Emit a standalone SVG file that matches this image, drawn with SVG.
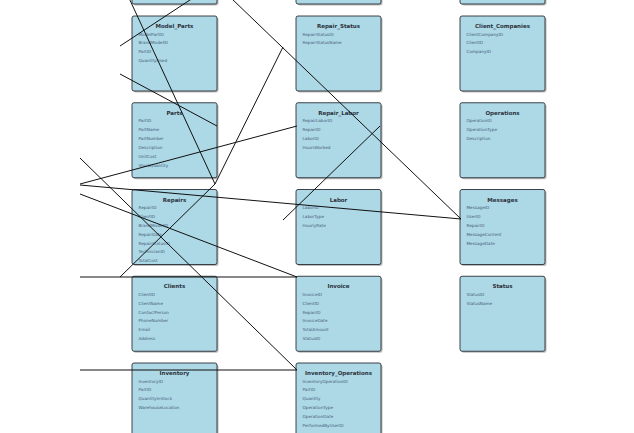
<svg xmlns="http://www.w3.org/2000/svg" width="634" height="433" viewBox="0 0 634 433">
<defs>
<style>
.bg{fill:#ffffff}
.sh{fill:#7a7a7a;opacity:0.5}
.box{fill:#add8e6;stroke:#2a2f36;stroke-width:0.9}
.t{font-family:"DejaVu Sans",sans-serif;font-size:5.5px;font-weight:bold;fill:#2b323c;text-anchor:middle}
.f{font-family:"DejaVu Sans",sans-serif;font-size:4.2px;fill:#46607a}
.ln{stroke:#111111;stroke-width:1;fill:none}
</style>
</defs>
<rect class="bg" x="0" y="0" width="634" height="433"/>
<g id="nodes">
<g id="top1"><rect class="sh" x="133.5" y="-69.5" width="85" height="75" rx="2"/><rect class="box" x="132" y="-71" width="85" height="75" rx="2"/></g>
<g id="top2"><rect class="sh" x="297.5" y="-69.5" width="85" height="75" rx="2"/><rect class="box" x="296" y="-71" width="85" height="75" rx="2"/></g>
<g id="top3"><rect class="sh" x="461.5" y="-69.5" width="85" height="75" rx="2"/><rect class="box" x="460" y="-71" width="85" height="75" rx="2"/></g>

<g id="Model_Parts"><rect class="sh" x="133.5" y="17.5" width="85" height="75" rx="2"/><rect class="box" x="132" y="16" width="85" height="75" rx="2"/>
<text class="t" x="174.5" y="28">Model_Parts</text>
<text class="f" x="138.5" y="35.6">ModelPartID</text><text class="f" x="138.5" y="44.45">BrandModelID</text><text class="f" x="138.5" y="53.3">PartID</text><text class="f" x="138.5" y="62.15">QuantityUsed</text></g>

<g id="Parts"><rect class="sh" x="133.5" y="104.25" width="85" height="75" rx="2"/><rect class="box" x="132" y="102.75" width="85" height="75" rx="2"/>
<text class="t" x="174.5" y="114.75">Parts</text>
<text class="f" x="138.5" y="122.35">PartID</text><text class="f" x="138.5" y="131.2">PartName</text><text class="f" x="138.5" y="140.05">PartNumber</text><text class="f" x="138.5" y="148.9">Description</text><text class="f" x="138.5" y="157.75">UnitCost</text><text class="f" x="138.5" y="166.6">StockQuantity</text></g>

<g id="Repairs"><rect class="sh" x="133.5" y="191" width="85" height="75" rx="2"/><rect class="box" x="132" y="189.5" width="85" height="75" rx="2"/>
<text class="t" x="174.5" y="201.5">Repairs</text>
<text class="f" x="138.5" y="209.1">RepairID</text><text class="f" x="138.5" y="217.95">ClientID</text><text class="f" x="138.5" y="226.8">BrandModelID</text><text class="f" x="138.5" y="235.65">RepairDate</text><text class="f" x="138.5" y="244.5">RepairStatusID</text><text class="f" x="138.5" y="253.35">TechnicianID</text><text class="f" x="138.5" y="262.2">TotalCost</text></g>

<g id="Clients"><rect class="sh" x="133.5" y="277.75" width="85" height="75" rx="2"/><rect class="box" x="132" y="276.25" width="85" height="75" rx="2"/>
<text class="t" x="174.5" y="288.25">Clients</text>
<text class="f" x="138.5" y="295.85">ClientID</text><text class="f" x="138.5" y="304.7">ClientName</text><text class="f" x="138.5" y="313.55">ContactPerson</text><text class="f" x="138.5" y="322.4">PhoneNumber</text><text class="f" x="138.5" y="331.25">Email</text><text class="f" x="138.5" y="340.1">Address</text></g>

<g id="Inventory"><rect class="sh" x="133.5" y="364.5" width="85" height="75" rx="2"/><rect class="box" x="132" y="363" width="85" height="75" rx="2"/>
<text class="t" x="174.5" y="375">Inventory</text>
<text class="f" x="138.5" y="382.6">InventoryID</text><text class="f" x="138.5" y="391.45">PartID</text><text class="f" x="138.5" y="400.3">QuantityInStock</text><text class="f" x="138.5" y="409.15">WarehouseLocation</text></g>

<g id="Repair_Status"><rect class="sh" x="297.5" y="17.5" width="85" height="75" rx="2"/><rect class="box" x="296" y="16" width="85" height="75" rx="2"/>
<text class="t" x="338.5" y="28">Repair_Status</text>
<text class="f" x="302.5" y="35.6">RepairStatusID</text><text class="f" x="302.5" y="44.45">RepairStatusName</text></g>

<g id="Repair_Labor"><rect class="sh" x="297.5" y="104.25" width="85" height="75" rx="2"/><rect class="box" x="296" y="102.75" width="85" height="75" rx="2"/>
<text class="t" x="338.5" y="114.75">Repair_Labor</text>
<text class="f" x="302.5" y="122.35">RepairLaborID</text><text class="f" x="302.5" y="131.2">RepairID</text><text class="f" x="302.5" y="140.05">LaborID</text><text class="f" x="302.5" y="148.9">HoursWorked</text></g>

<g id="Labor"><rect class="sh" x="297.5" y="191" width="85" height="75" rx="2"/><rect class="box" x="296" y="189.5" width="85" height="75" rx="2"/>
<text class="t" x="338.5" y="201.5">Labor</text>
<text class="f" x="302.5" y="209.1">LaborID</text><text class="f" x="302.5" y="217.95">LaborType</text><text class="f" x="302.5" y="226.8">HourlyRate</text></g>

<g id="Invoice"><rect class="sh" x="297.5" y="277.75" width="85" height="75" rx="2"/><rect class="box" x="296" y="276.25" width="85" height="75" rx="2"/>
<text class="t" x="338.5" y="288.25">Invoice</text>
<text class="f" x="302.5" y="295.85">InvoiceID</text><text class="f" x="302.5" y="304.7">ClientID</text><text class="f" x="302.5" y="313.55">RepairID</text><text class="f" x="302.5" y="322.4">InvoiceDate</text><text class="f" x="302.5" y="331.25">TotalAmount</text><text class="f" x="302.5" y="340.1">StatusID</text></g>

<g id="Inventory_Operations"><rect class="sh" x="297.5" y="364.5" width="85" height="75" rx="2"/><rect class="box" x="296" y="363" width="85" height="75" rx="2"/>
<text class="t" x="338.5" y="375">Inventory_Operations</text>
<text class="f" x="302.5" y="382.6">InventoryOperationID</text><text class="f" x="302.5" y="391.45">PartID</text><text class="f" x="302.5" y="400.3">Quantity</text><text class="f" x="302.5" y="409.15">OperationType</text><text class="f" x="302.5" y="418">OperationDate</text><text class="f" x="302.5" y="426.85">PerformedByUserID</text></g>

<g id="Client_Companies"><rect class="sh" x="461.5" y="17.5" width="85" height="75" rx="2"/><rect class="box" x="460" y="16" width="85" height="75" rx="2"/>
<text class="t" x="502.5" y="28">Client_Companies</text>
<text class="f" x="466.5" y="35.6">ClientCompanyID</text><text class="f" x="466.5" y="44.45">ClientID</text><text class="f" x="466.5" y="53.3">CompanyID</text></g>

<g id="Operations"><rect class="sh" x="461.5" y="104.25" width="85" height="75" rx="2"/><rect class="box" x="460" y="102.75" width="85" height="75" rx="2"/>
<text class="t" x="502.5" y="114.75">Operations</text>
<text class="f" x="466.5" y="122.35">OperationID</text><text class="f" x="466.5" y="131.2">OperationType</text><text class="f" x="466.5" y="140.05">Description</text></g>

<g id="Messages"><rect class="sh" x="461.5" y="191" width="85" height="75" rx="2"/><rect class="box" x="460" y="189.5" width="85" height="75" rx="2"/>
<text class="t" x="502.5" y="201.5">Messages</text>
<text class="f" x="466.5" y="209.1">MessageID</text><text class="f" x="466.5" y="217.95">UserID</text><text class="f" x="466.5" y="226.8">RepairID</text><text class="f" x="466.5" y="235.65">MessageContent</text><text class="f" x="466.5" y="244.5">MessageDate</text></g>

<g id="Status"><rect class="sh" x="461.5" y="277.75" width="85" height="75" rx="2"/><rect class="box" x="460" y="276.25" width="85" height="75" rx="2"/>
<text class="t" x="502.5" y="288.25">Status</text>
<text class="f" x="466.5" y="295.85">StatusID</text><text class="f" x="466.5" y="304.7">StatusName</text></g>
</g>
<g id="connectors">
<line class="ln" x1="120" y1="46" x2="193" y2="-2"/>
<line class="ln" x1="120" y1="74" x2="217" y2="126"/>
<line class="ln" x1="129" y1="-2" x2="215" y2="184"/>
<line class="ln" x1="283" y1="47" x2="215" y2="184"/>
<line class="ln" x1="120" y1="277" x2="215" y2="184"/>
<line class="ln" x1="231" y1="-2" x2="461" y2="219"/>
<line class="ln" x1="80" y1="185" x2="461" y2="219"/>
<line class="ln" x1="80" y1="184" x2="297" y2="126"/>
<line class="ln" x1="80" y1="194" x2="297" y2="277"/>
<line class="ln" x1="80" y1="277" x2="297" y2="277"/>
<line class="ln" x1="80" y1="158" x2="297" y2="370"/>
<line class="ln" x1="80" y1="370" x2="297" y2="370"/>
<line class="ln" x1="283" y1="220" x2="380" y2="126"/>
</g>
</svg>
